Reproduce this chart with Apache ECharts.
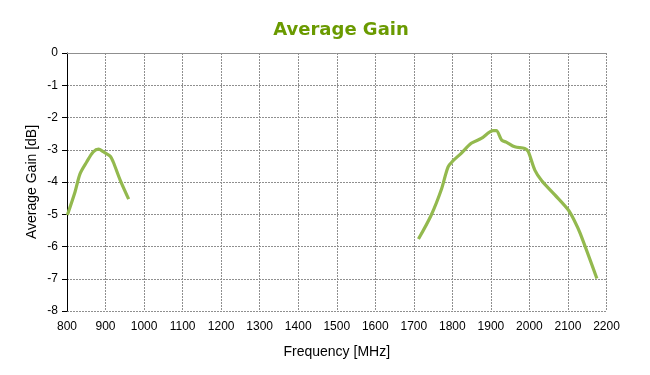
<!DOCTYPE html>
<html>
<head>
<meta charset="utf-8">
<script src="https://cdn.jsdelivr.net/npm/echarts@6/dist/echarts.min.js"></script>
<style>html,body{margin:0;padding:0;background:#fff}#c{width:650px;height:375px}</style>
</head>
<body>
<div id="c"></div>
<script>
const xTicks = [800, 900, 1000, 1100, 1200, 1300, 1400, 1500, 1600, 1700, 1800, 1900, 2000, 2100, 2200];
const yTicks = [0, -1, -2, -3, -4, -5, -6, -7, -8];

const band1Freq = [801, 821, 834, 851, 868, 882, 894, 912, 920, 938, 960];
const band1Gain = [-5.02, -4.30, -3.74, -3.38, -3.07, -2.98, -3.06, -3.20, -3.38, -3.94, -4.53];

const band2Freq = [1712, 1745, 1771, 1789, 1802, 1823, 1849, 1875, 1906, 1914, 1928, 1941, 1962, 1988, 1997, 2014, 2032, 2066, 2101, 2118, 2132, 2175];
const band2Gain = [-5.77, -5.03, -4.25, -3.53, -3.34, -3.11, -2.80, -2.65, -2.41, -2.41, -2.70, -2.77, -2.91, -2.96, -3.06, -3.63, -3.96, -4.40, -4.87, -5.23, -5.60, -6.99];

const zip = (a, b) => a.map((v, i) => [v, b[i]]);

const chart = echarts.init(document.getElementById('c'));
const gridLine = { show: true, lineStyle: { color: '#8f8f8f', type: [2, 1], width: 1 } };
const lineStyle = { color: '#93b94e', width: 3.2 };
chart.setOption({
  animation: false,
  title: {
    text: 'Average Gain', left: 336, textAlign: 'center', top: 16,
    textStyle: { color: '#6a9a00', fontSize: 18, fontWeight: 'bold', fontFamily: 'DejaVu Sans' }
  },
  grid: { left: 67, right: 43.5, top: 53, bottom: 64 },
  xAxis: {
    type: 'value', min: 800, max: 2200, interval: 100,
    name: 'Frequency [MHz]', nameLocation: 'middle', nameGap: 34, nameMoveOverlap: false,
    nameTextStyle: { color: '#000', fontSize: 14, fontFamily: 'Liberation Sans' },
    axisLine: { show: true, lineStyle: { color: '#8f8f8f' } },
    axisTick: { show: false },
    axisLabel: { color: '#000', fontSize: 12, fontFamily: 'Liberation Sans', margin: 10,
      formatter: v => xTicks.includes(v) ? String(v) : '' },
    splitLine: gridLine
  },
  yAxis: {
    type: 'value', min: -8, max: 0, interval: 1,
    name: 'Average Gain [dB]', nameLocation: 'middle', nameGap: 28, nameMoveOverlap: false,
    nameTextStyle: { color: '#000', fontSize: 14, fontFamily: 'Liberation Sans' },
    axisLine: { show: true, lineStyle: { color: '#000', width: 1 } },
    axisTick: { show: true, inside: false, length: 5, lineStyle: { color: '#000' } },
    axisLabel: { color: '#000', fontSize: 12, fontFamily: 'Liberation Sans', margin: 9,
      formatter: v => yTicks.includes(v) ? String(v) : '' },
    splitLine: gridLine
  },
  series: [
    { type: 'line', data: zip(band1Freq, band1Gain), smooth: 0.3, showSymbol: false, lineStyle: lineStyle },
    { type: 'line', data: zip(band2Freq, band2Gain), smooth: 0.3, showSymbol: false, lineStyle: lineStyle }
  ]
});
</script>
</body>
</html>
